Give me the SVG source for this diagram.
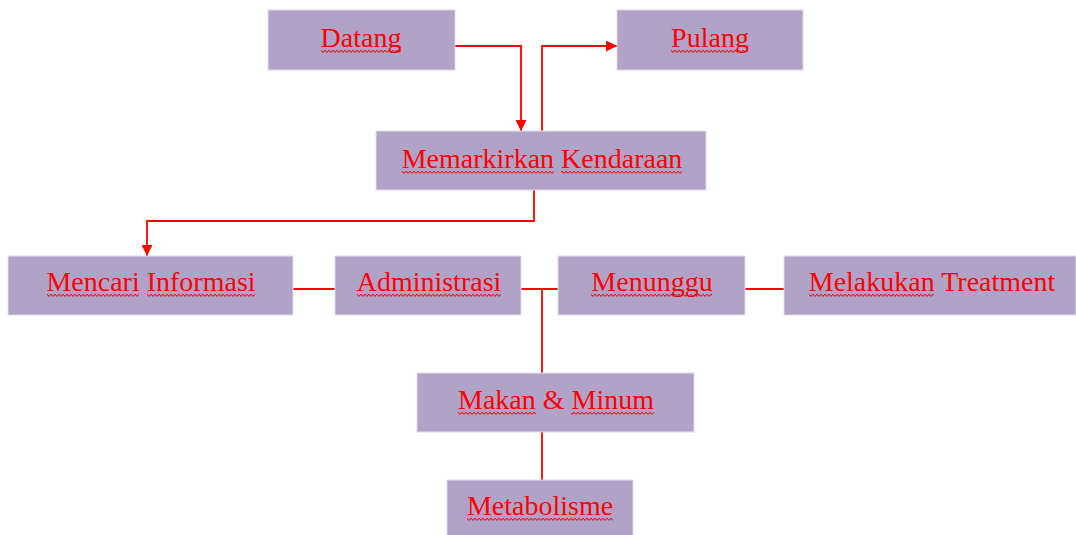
<svg xmlns="http://www.w3.org/2000/svg" width="1076" height="535" viewBox="0 0 1076 535">
<style>
.box{fill:#B1A2C8;stroke:#E2DCEC;stroke-width:1}
.lbl{font-family:"Liberation Serif","Times New Roman",serif;font-size:28px;fill:#FF0000;text-anchor:middle}
.con{fill:none;stroke:#FF0000;stroke-width:1.8}
.wv{fill:url(#wavy)}
</style>
<defs>
<pattern id="wavy" patternUnits="userSpaceOnUse" x="0" y="0" width="4" height="4">
<path d="M0,1 Q1,3.4 2,3 Q3,3.4 4,1" fill="none" stroke="#FF0000" stroke-width="1"/>
</pattern>
<marker id="ah" viewBox="0 0 10 10" refX="10" refY="5" markerWidth="11" markerHeight="11" markerUnits="userSpaceOnUse" orient="auto">
<path d="M0,0 L10,5 L0,10 z" fill="#FF0000"/>
</marker>
</defs>
<rect width="1076" height="535" fill="#FFFFFF"/>
<g id="connectors">
<path class="con" d="M455,46 H521 V131" marker-end="url(#ah)"/>
<path class="con" d="M542,131 V46 H617" marker-end="url(#ah)"/>
<path class="con" d="M534,190 V221 H147 V256" marker-end="url(#ah)"/>
<path class="con" d="M293,289 H335"/>
<path class="con" d="M521,289 H558"/>
<path class="con" d="M542,289 V373"/>
<path class="con" d="M745,289 H784"/>
<path class="con" d="M542,432 V480"/>
</g>
<g id="datang"><rect class="box" x="268" y="10" width="187" height="60"/><text class="lbl" x="361" y="47">Datang</text><g transform="translate(321,49)"><rect class="wv" width="80" height="4"/></g></g>
<g id="pulang"><rect class="box" x="617" y="10" width="186" height="60"/><text class="lbl" x="710" y="47">Pulang</text><g transform="translate(671,49)"><rect class="wv" width="77" height="4"/></g></g>
<g id="memarkirkan"><rect class="box" x="376" y="131" width="330" height="59"/><text class="lbl" x="542" y="168">Memarkirkan Kendaraan</text><g transform="translate(402,170)"><rect class="wv" width="152" height="4"/><rect class="wv" x="159" width="121" height="4"/></g></g>
<g id="mencari"><rect class="box" x="8" y="256" width="285" height="59"/><text class="lbl" x="151" y="291">Mencari Informasi</text><g transform="translate(47,293)"><rect class="wv" width="92" height="4"/><rect class="wv" x="100" width="108" height="4"/></g></g>
<g id="administrasi"><rect class="box" x="335" y="256" width="186" height="59"/><text class="lbl" x="429" y="291">Administrasi</text><g transform="translate(357,293)"><rect class="wv" width="144" height="4"/></g></g>
<g id="menunggu"><rect class="box" x="558" y="256" width="187" height="59"/><text class="lbl" x="652" y="291">Menunggu</text><g transform="translate(591,293)"><rect class="wv" width="121" height="4"/></g></g>
<g id="treatment"><rect class="box" x="784" y="256" width="292" height="59"/><text class="lbl" x="932" y="291">Melakukan Treatment</text><g transform="translate(809,293)"><rect class="wv" width="125" height="4"/></g></g>
<g id="makan"><rect class="box" x="417" y="373" width="277" height="59"/><text class="lbl" x="556" y="409">Makan &amp; Minum</text><g transform="translate(458,411)"><rect class="wv" width="78" height="4"/><rect class="wv" x="113" width="83" height="4"/></g></g>
<g id="metabolisme"><rect class="box" x="447" y="480" width="186" height="58"/><text class="lbl" x="540" y="515">Metabolisme</text><g transform="translate(467,517)"><rect class="wv" width="146" height="4"/></g></g>
</svg>
